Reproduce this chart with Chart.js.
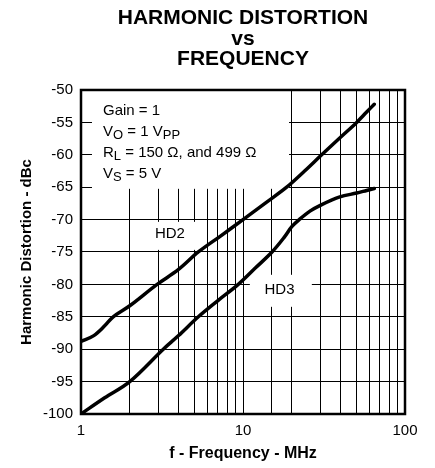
<!DOCTYPE html>
<html>
<head>
<meta charset="utf-8">
<script src="https://cdn.jsdelivr.net/npm/chart.js@4/dist/chart.umd.min.js"></script>
<style>
html,body{margin:0;padding:0;background:#fff}
#wrap{width:435px;height:468px;position:relative}
</style>
</head>
<body>
<div id="wrap"><canvas id="c"></canvas></div>
<script>
const FONT = '"Liberation Sans", Arial, Helvetica, sans-serif';

// ---- text ----
const titleLines = ['HARMONIC DISTORTION', 'vs', 'FREQUENCY'];
const xAxisTitle = 'f - Frequency - MHz';
const yAxisTitle = 'Harmonic Distortion - dBc';
const seriesNames = ['HD2', 'HD3'];

// ---- ticks ----
const xTickValues = [1, 10, 100];
const xTickLabels = ['1', '10', '100'];
const yMin = -100, yMax = -50, yStep = 5;

// ---- series (frequency in MHz, distortion in dBc) ----
const hd2Freq = [1, 1.2, 1.4, 1.58, 2, 2.95, 4, 5.3, 7.3, 10, 14, 18.6, 24, 30.6, 40, 50.3, 58, 64.6];
const hd2Db   = [-88.8, -87.9, -86.4, -85, -83.3, -80, -77.7, -75, -72.5, -70, -67.3, -65, -62.5, -60, -57.3, -55, -53.4, -52.2];
const hd3Freq = [1, 1.4, 2, 3.22, 4, 5.3, 7, 9.35, 12, 15.1, 18, 20, 22.5, 25.9, 30, 39.6, 50.4, 58, 64.6];
const hd3Db   = [-100, -97.5, -95, -90, -87.9, -85, -82.5, -80, -77.4, -75, -72.7, -71.1, -69.9, -68.7, -67.8, -66.5, -65.9, -65.5, -65.2];

// ---- condition notes (segments; sub = subscript) ----
const conditionLines = [
  [{t: 'Gain = 1'}],
  [{t: 'V'}, {t: 'O', sub: true}, {t: ' = 1 V'}, {t: 'PP', sub: true}],
  [{t: 'R'}, {t: 'L', sub: true}, {t: ' = 150 \u03A9, and 499 \u03A9'}],
  [{t: 'V'}, {t: 'S', sub: true}, {t: ' = 5 V'}]
];

// annotation placement, in data units (MHz, dBc)
const notesAnchor = {x: 1.367, y: -53.85};
const seriesLabelPos = [{x: 3.54, y: -72.2}, {x: 16.8, y: -80.84}];
const maskBoxes = [
  {x0: 1.169, x1: 19.23, y0: -50, y1: -65.25},
  {x0: 2.313, x1: 5.42, y0: -70.35, y1: -74.67},
  {x0: 11.02, x1: 26.6, y0: -78.52, y1: -83.46}
];

const toPts = (fs, vs) => fs.map((f, i) => ({x: f, y: vs[i]}));

const notesPlugin = {
  id: 'notes',
  beforeDatasetsDraw(chart) {
    const {ctx, scales: {x, y}} = chart;
    ctx.save();
    ctx.fillStyle = '#fff';
    for (const b of maskBoxes) {
      const l = x.getPixelForValue(b.x0), r = x.getPixelForValue(b.x1);
      const t = y.getPixelForValue(b.y0), bt = y.getPixelForValue(b.y1);
      ctx.fillRect(l, t, r - l, bt - t);
    }
    ctx.restore();
  },
  afterDatasetsDraw(chart) {
    const {ctx, chartArea: a, scales: {x, y}} = chart;
    ctx.save();
    ctx.strokeStyle = '#000';
    ctx.lineWidth = 2.5;
    ctx.strokeRect(a.left, a.top, a.right - a.left, a.bottom - a.top);

    ctx.fillStyle = '#000';
    ctx.textBaseline = 'alphabetic';
    ctx.textAlign = 'left';
    let yy = y.getPixelForValue(notesAnchor.y);
    const x0 = x.getPixelForValue(notesAnchor.x);
    for (const line of conditionLines) {
      let xx = x0;
      for (const seg of line) {
        ctx.font = (seg.sub ? '13px ' : '15px ') + FONT;
        ctx.fillText(seg.t, xx, yy + (seg.sub ? 3 : 0));
        xx += ctx.measureText(seg.t).width;
      }
      yy += 21;
    }

    ctx.font = '15px ' + FONT;
    ctx.textAlign = 'center';
    ctx.textBaseline = 'middle';
    seriesNames.forEach((n, i) => {
      const p = seriesLabelPos[i];
      ctx.fillText(n, x.getPixelForValue(p.x), y.getPixelForValue(p.y));
    });
    ctx.restore();
  }
};

new Chart(document.getElementById('c'), {
  type: 'line',
  data: {
    datasets: [
      {label: seriesNames[0], data: toPts(hd2Freq, hd2Db)},
      {label: seriesNames[1], data: toPts(hd3Freq, hd3Db)}
    ].map(d => Object.assign(d, {
      borderColor: '#000', borderWidth: 3.5, pointRadius: 0, fill: false,
      tension: 0.35, borderCapStyle: 'round', borderJoinStyle: 'round'
    }))
  },
  options: {
    responsive: true,
    maintainAspectRatio: false,
    animation: false,
    events: [],
    layout: {padding: {left: 0, right: 30, top: 0, bottom: 0}},
    plugins: {
      legend: {display: false},
      tooltip: {enabled: false},
      title: {
        display: true,
        fullSize: false,
        text: titleLines,
        color: '#000',
        font: {family: FONT, size: 21, weight: 'bold', lineHeight: 0.976},
        padding: {top: 8, bottom: 20.5}
      }
    },
    scales: {
      x: {
        type: 'logarithmic',
        position: 'bottom',
        min: 1, max: 100,
        border: {display: false},
        grid: {color: '#000', lineWidth: 1, drawTicks: false},
        ticks: {
          autoSkip: false, maxRotation: 0, padding: 8, color: '#000',
          font: {family: FONT, size: 15},
          callback: (v) => {
            const i = xTickValues.findIndex(t => Math.abs(t - v) < 1e-9);
            return i >= 0 ? xTickLabels[i] : '';
          }
        },
        title: {
          display: true, text: xAxisTitle, color: '#000',
          font: {family: FONT, size: 16, weight: 'bold'},
          padding: {top: 0, bottom: 4.5}
        },
        afterFit(s) { s.height = 54; }
      },
      y: {
        type: 'linear',
        min: yMin, max: yMax,
        border: {display: false},
        grid: {color: '#000', lineWidth: 1, drawTicks: false},
        ticks: {
          stepSize: yStep, padding: 8, color: '#000',
          font: {family: FONT, size: 15}
        },
        title: {
          display: true, text: yAxisTitle, color: '#000',
          font: {family: FONT, size: 15, weight: 'bold'},
          padding: {top: 18, bottom: 0}
        },
        afterFit(s) { s.width = 81; }
      }
    }
  },
  plugins: [notesPlugin]
});
</script>
</body>
</html>
